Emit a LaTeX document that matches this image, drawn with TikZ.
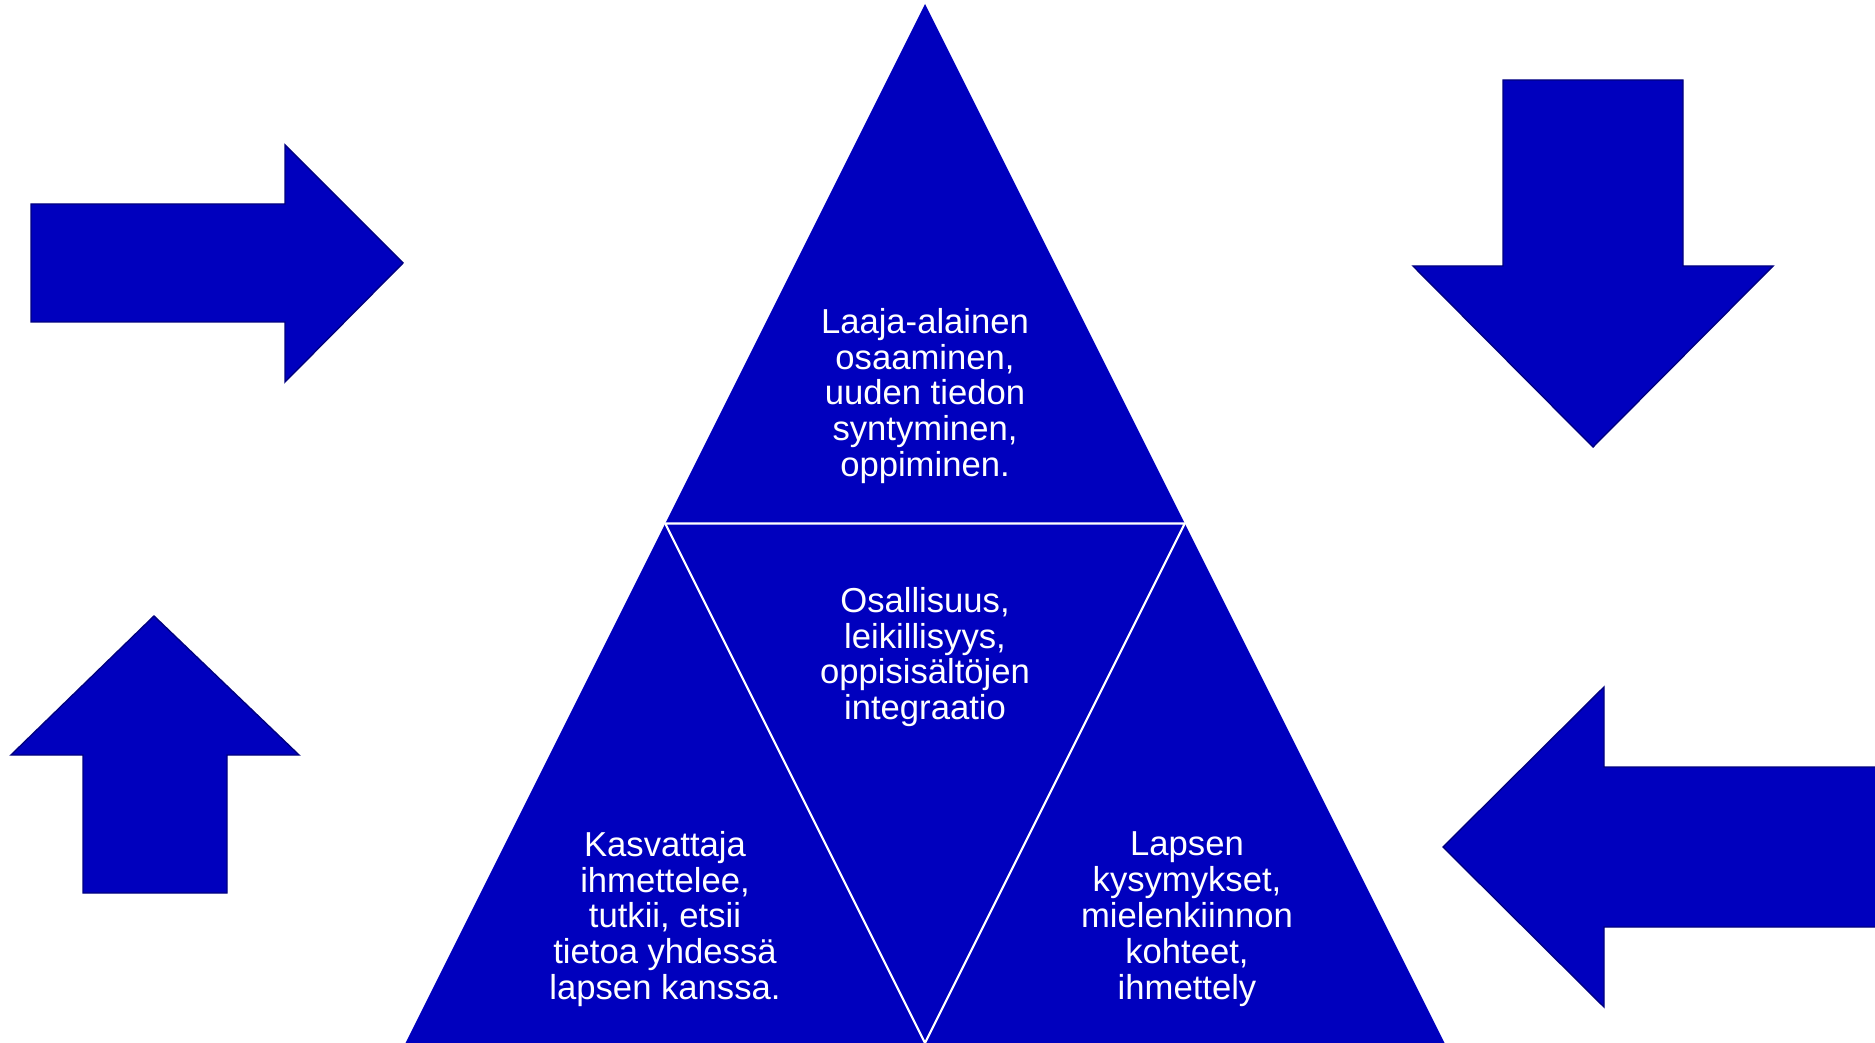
\documentclass[tikz,border=0pt]{standalone}
\usepackage{fontspec}
\setmainfont{Liberation Sans}
\usepackage{xcolor}
\usepackage{tikz}
\definecolor{deepblue}{RGB}{0,0,190}
\definecolor{edgeblue}{RGB}{0,0,128}
\tikzstyle{bigarrow} = [fill=deepblue, draw=edgeblue, line width=0.4pt, line join=miter]
\tikzstyle{divider} = [draw=white, line width=0.6pt, line join=miter]
\tikzstyle{blocktext} = [text=white, align=center, inner sep=0pt, font=\fontsize{9.85}{10.2}\selectfont]

\begin{document}
\begin{tikzpicture}[x=0.01cm, y=-0.01cm]
		\useasboundingbox (0,0) rectangle (1875,1043);
		% the big triangle and its inner split
		\coordinate (apex) at (925,4);
		\coordinate (baseL) at (405.5,1043);
		\coordinate (baseR) at (1444.5,1043);
		\coordinate (midL) at (665.25,523.5);
		\coordinate (midR) at (1184.75,523.5);
		\coordinate (baseM) at (925,1043);
		\fill [deepblue] (apex) -- (baseR) -- (baseL) -- cycle;
		\draw [divider] (midL) -- (midR) -- (baseM) -- cycle;
		% four block arrows round it
		\draw [bigarrow] (31,204) -- (285,204) -- (285,145) -- (403,263) -- (285,382) -- (285,322) -- (31,322) -- cycle;
		\draw [bigarrow] (1503,80) -- (1683,80) -- (1683,266) -- (1773,266) -- (1593,447) -- (1413,266) -- (1503,266) -- cycle;
		\draw [bigarrow] (154,616) -- (299,755) -- (227,755) -- (227,893) -- (83,893) -- (83,755) -- (11,755) -- cycle;
		\draw [bigarrow] (1443,847) -- (1604,687) -- (1604,767) -- (1880,767) -- (1880,927) -- (1604,927) -- (1604,1007) -- cycle;
		% texts
		\node (peak)[blocktext] at (925,396) {Laaja-alainen\\osaaminen,\\uuden tiedon\\syntyminen,\\oppiminen.};
		\node (core)[blocktext] at (925,657) {Osallisuus,\\leikillisyys,\\oppisisältöjen\\integraatio};
		\node (educator)[blocktext] at (665,919) {Kasvattaja\\ihmettelee,\\tutkii, etsii\\tietoa yhdessä\\lapsen kanssa.};
		\node (child)[blocktext] at (1187,919) {Lapsen\\kysymykset,\\mielenkiinnon\\kohteet,\\ihmettely};
	\end{tikzpicture}
\end{document}
